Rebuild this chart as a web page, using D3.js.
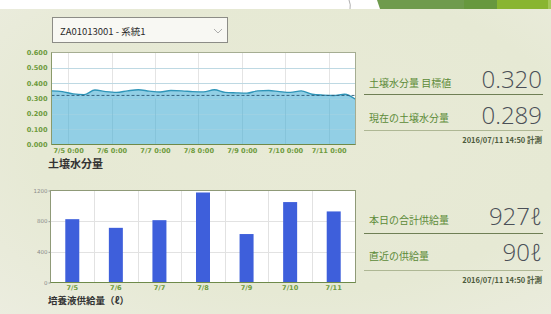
<!DOCTYPE html>
<html><head><meta charset="utf-8">
<script src="https://cdn.jsdelivr.net/npm/d3@7"></script>
<style>
html,body{margin:0;padding:0;background:#fff;}
svg{display:block;}
</style></head>
<body>
<svg id="c" width="551" height="314"></svg>
<script>
// ---------- data ----------
const deviceLabel = "ZA01013001 - 系統1";
const moistStart = "2016-07-04T14:50:00";
const moistStepHours = 6;
const moistValues = [0.350,0.345,0.330,0.325,0.355,0.345,0.340,0.350,0.357,0.348,0.342,0.352,0.350,0.345,0.343,0.357,0.340,0.337,0.335,0.350,0.352,0.345,0.340,0.350,0.328,0.322,0.320,0.328,0.295];
const moistTarget = 0.320;
const moistTicks = [0,0.1,0.2,0.3,0.4,0.5,0.6];
const moistDayTicks = ["2016-07-05","2016-07-06","2016-07-07","2016-07-08","2016-07-09","2016-07-10","2016-07-11"];
const supplyDays = ["7/5","7/6","7/7","7/8","7/9","7/10","7/11"];
const supplyValues = [826,713,813,1174,632,1049,927];
const supplyTicks = [0,400,800,1200];
const moistTargetText = "0.320";
const moistCurrentText = "0.289";
const supplyTodayText = "927ℓ";
const supplyRecentText = "90ℓ";
const measuredText = "2016/07/11 14:50 計測";

// ---------- setup ----------
const svg = d3.select("#c");
const JP = "'Noto Sans CJK JP','Noto Sans',sans-serif";
const defs = svg.append("defs");
const bg = defs.append("radialGradient").attr("id","bg").attr("cx","0.55").attr("cy","0.45").attr("r","0.8");
bg.append("stop").attr("offset","0").attr("stop-color","#e8ead6");
bg.append("stop").attr("offset","0.6").attr("stop-color","#e6e9d4");
bg.append("stop").attr("offset","1").attr("stop-color","#ecede0");
svg.append("rect").attr("width",551).attr("height",314).attr("fill","url(#bg)");
// top white strip and green banner
svg.append("rect").attr("width",551).attr("height",9).attr("fill","#ffffff");
svg.append("path").attr("d","M349,0 Q351,5 350,9").attr("stroke","#9a9a9a").attr("fill","none").attr("stroke-width",0.8);
svg.append("path").attr("d","M377,0 L465,0 L465,9 L380,9 Z").attr("fill","#6f9b4d");
svg.append("rect").attr("x",464).attr("y",0).attr("width",34).attr("height",9).attr("fill","#67983e");
svg.append("rect").attr("x",497).attr("y",0).attr("width",52).attr("height",9).attr("fill","#89b531");
svg.append("rect").attr("x",548).attr("y",0).attr("width",3).attr("height",9).attr("fill","#a6c85a");

// dropdown
svg.append("rect").attr("x",52.5).attr("y",17.5).attr("width",175).attr("height",25)
  .attr("fill","#f8f8f3").attr("stroke","#8c8c86").attr("stroke-width",1);
svg.append("text").attr("x",60).attr("y",34.5).attr("font-family",JP).attr("font-size",9.5)
  .attr("fill","#2a2a2a").text(deviceLabel);
svg.append("path").attr("d","M214,29 L218,33 L222,29").attr("fill","none").attr("stroke","#9a9a9a").attr("stroke-width",0.8);

// ---------- moisture chart ----------
const m = {l:51.5, r:355.5, t:52.5, b:144.5};
const parse = d3.timeParse("%Y-%m-%dT%H:%M:%S");
const t0 = parse(moistStart);
const moist = moistValues.map((v,i)=>({t:d3.timeHour.offset(t0,i*moistStepHours), v}));
const x1 = d3.scaleTime().domain(d3.extent(moist,d=>d.t)).range([m.l,m.r]);
const y1 = d3.scaleLinear().domain([0,0.6]).range([m.b,m.t]);
const g1 = svg.append("g");
g1.append("rect").attr("x",m.l).attr("y",m.t).attr("width",m.r-m.l).attr("height",m.b-m.t).attr("fill","#ffffff");
const dayDates = moistDayTicks.map(s=>d3.timeParse("%Y-%m-%d")(s));
// grid
g1.selectAll(".hg").data(moistTicks.slice(1,-1)).join("line")
  .attr("x1",m.l).attr("x2",m.r).attr("y1",d=>Math.round(y1(d))+0.5).attr("y2",d=>Math.round(y1(d))+0.5)
  .attr("stroke","#e4e4e4").attr("stroke-width",1);
g1.selectAll(".vg").data(dayDates).join("line")
  .attr("y1",m.t).attr("y2",m.b).attr("x1",d=>Math.round(x1(d))+0.5).attr("x2",d=>Math.round(x1(d))+0.5)
  .attr("stroke","#e4e4e4").attr("stroke-width",1);
const area = d3.area().x(d=>x1(d.t)).y0(y1(0)).y1(d=>y1(d.v)).curve(d3.curveMonotoneX);
const line = d3.line().x(d=>x1(d.t)).y(d=>y1(d.v)).curve(d3.curveMonotoneX);
g1.append("path").datum(moist).attr("d",area).attr("fill","#92cfe5");
// grid over fill (faint)
g1.selectAll(".hg2").data(moistTicks.slice(1,-1)).join("line")
  .attr("x1",m.l).attr("x2",m.r).attr("y1",d=>Math.round(y1(d))+0.5).attr("y2",d=>Math.round(y1(d))+0.5)
  .attr("stroke","#a5d3e3").attr("stroke-width",1).attr("opacity",0.6);
g1.selectAll(".vg2").data(dayDates).join("line")
  .attr("y1",y1(0.3)).attr("y2",m.b).attr("x1",d=>Math.round(x1(d))+0.5).attr("x2",d=>Math.round(x1(d))+0.5)
  .attr("stroke","#7fbdd4").attr("stroke-width",1).attr("opacity",0.6);
g1.append("path").datum(moist).attr("d",line).attr("fill","none").attr("stroke","#2f95b8").attr("stroke-width",1.4);
g1.append("line").attr("x1",m.l).attr("x2",m.r).attr("y1",y1(moistTarget)).attr("y2",y1(moistTarget))
  .attr("stroke","#2d5a78").attr("stroke-width",0.9).attr("stroke-dasharray","3,2");
g1.append("rect").attr("x",m.l).attr("y",m.t).attr("width",m.r-m.l).attr("height",m.b-m.t)
  .attr("fill","none").attr("stroke","#a5ad92").attr("stroke-width",1);
g1.append("line").attr("x1",m.l).attr("x2",m.r).attr("y1",m.b).attr("y2",m.b).attr("stroke","#6e8a4a").attr("stroke-width",1.2);
g1.append("line").attr("x1",m.l).attr("x2",m.l).attr("y1",m.t).attr("y2",m.b).attr("stroke","#8a9a6a").attr("stroke-width",1);
// axes labels
const yAx1 = g1.append("g").attr("transform",`translate(${m.l-1},0)`)
  .call(d3.axisLeft(y1).tickValues(moistTicks).tickFormat(d3.format(".3f")).tickSize(0).tickPadding(3));
yAx1.select(".domain").remove();
yAx1.selectAll("text").attr("font-family","'DejaVu Sans',sans-serif").attr("font-size",6.6).attr("font-weight","bold").attr("fill","#6d9a3c");
const xAx1 = g1.append("g").attr("transform",`translate(0,${m.b})`)
  .call(d3.axisBottom(x1).tickValues(dayDates).tickFormat(d=>`${d.getMonth()+1}/${d.getDate()} 0:00`).tickSize(0).tickPadding(4));
xAx1.select(".domain").remove();
xAx1.selectAll("text").attr("font-family","'DejaVu Sans',sans-serif").attr("font-size",6.6).attr("font-weight","bold").attr("fill","#6d9a3c");
svg.append("text").attr("x",48).attr("y",168).attr("font-family",JP).attr("font-size",11).attr("font-weight","bold")
  .attr("fill","#333").text("土壌水分量");

// ---------- supply chart ----------
const b = {l:50.5, r:355.5, t:190.5, b:282.5};
const x2 = d3.scaleBand().domain(supplyDays).range([b.l,b.r]).padding(0);
const y2 = d3.scaleLinear().domain([0,1200]).range([b.b,b.t]);
const g2 = svg.append("g");
g2.append("rect").attr("x",b.l).attr("y",b.t).attr("width",b.r-b.l).attr("height",b.b-b.t).attr("fill","#ffffff");
g2.selectAll(".hg").data(supplyTicks.slice(1,-1)).join("line")
  .attr("x1",b.l).attr("x2",b.r).attr("y1",d=>Math.round(y2(d))+0.5).attr("y2",d=>Math.round(y2(d))+0.5)
  .attr("stroke","#e2e2e2");
g2.selectAll(".vg").data(supplyDays.slice(1)).join("line")
  .attr("y1",b.t).attr("y2",b.b).attr("x1",d=>Math.round(x2(d))+0.5).attr("x2",d=>Math.round(x2(d))+0.5)
  .attr("stroke","#e2e2e2");
const bw = 14;
g2.selectAll(".bar").data(supplyValues).join("rect")
  .attr("x",(d,i)=>x2(supplyDays[i])+x2.bandwidth()/2-bw/2).attr("width",bw)
  .attr("y",d=>y2(d)).attr("height",d=>y2(0)-y2(d)).attr("fill","#3e5fdb");
g2.append("rect").attr("x",b.l).attr("y",b.t).attr("width",b.r-b.l).attr("height",b.b-b.t)
  .attr("fill","none").attr("stroke","#8f9a78").attr("stroke-width",1);
g2.append("line").attr("x1",b.l).attr("x2",b.r).attr("y1",b.b).attr("y2",b.b).attr("stroke","#6e8a4a").attr("stroke-width",1.2);
const yAx2 = g2.append("g").attr("transform",`translate(${b.l},0)`)
  .call(d3.axisLeft(y2).tickValues(supplyTicks).tickFormat(d3.format("d")).tickSize(2).tickPadding(1));
yAx2.select(".domain").remove();
yAx2.selectAll("line").attr("stroke","#999");
yAx2.selectAll("text").attr("font-family","'DejaVu Sans',sans-serif").attr("font-size",5.5).attr("fill","#8a8a8a");
const xAx2 = g2.append("g").attr("transform",`translate(0,${b.b})`)
  .call(d3.axisBottom(x2).tickSize(0).tickPadding(3));
xAx2.select(".domain").remove();
xAx2.selectAll("text").attr("font-family","'DejaVu Sans',sans-serif").attr("font-size",6.6).attr("font-weight","bold").attr("fill","#6d9a3c");
svg.append("text").attr("x",48).attr("y",304).attr("font-family",JP).attr("font-size",9.5).attr("font-weight","bold")
  .attr("fill","#333").text("培養液供給量（ℓ）");

// ---------- right panels ----------
const NUM = "'Open Sans','Noto Sans',sans-serif";
function panel(label1,val1,y1b,line1,label2,val2,y2b,line2,ts){
  const lx = 369, rx = 542;
  svg.append("text").attr("x",lx).attr("y",y1b-1.5).attr("font-family",JP).attr("font-size",10).attr("fill","#5b8a37").text(label1);
  svg.append("text").attr("x",rx).attr("y",y1b).attr("text-anchor","end").attr("font-family",NUM).attr("font-weight",300)
    .attr("font-size",24).attr("fill","#4a4f57").text(val1);
  svg.append("line").attr("x1",364).attr("x2",543).attr("y1",line1).attr("y2",line1).attr("stroke","#6f7f55").attr("stroke-width",1);
  svg.append("text").attr("x",lx).attr("y",y2b-1.5).attr("font-family",JP).attr("font-size",10).attr("fill","#5b8a37").text(label2);
  svg.append("text").attr("x",rx).attr("y",y2b).attr("text-anchor","end").attr("font-family",NUM).attr("font-weight",300)
    .attr("font-size",24).attr("fill","#4a4f57").text(val2);
  svg.append("line").attr("x1",364).attr("x2",543).attr("y1",line2).attr("y2",line2).attr("stroke","#aeb794").attr("stroke-width",1);
  svg.append("text").attr("x",rx).attr("y",line2+12.5).attr("text-anchor","end").attr("font-family",JP).attr("font-weight","bold")
    .attr("font-size",7.5).attr("fill","#4d5a3c").text(ts);
}
panel("土壌水分量 目標値",moistTargetText,88,94.5,"現在の土壌水分量",moistCurrentText,123.5,130.5,measuredText);
panel("本日の合計供給量",supplyTodayText,225,233.5,"直近の供給量",supplyRecentText,261,270.5,measuredText);
</script>
</body></html>
